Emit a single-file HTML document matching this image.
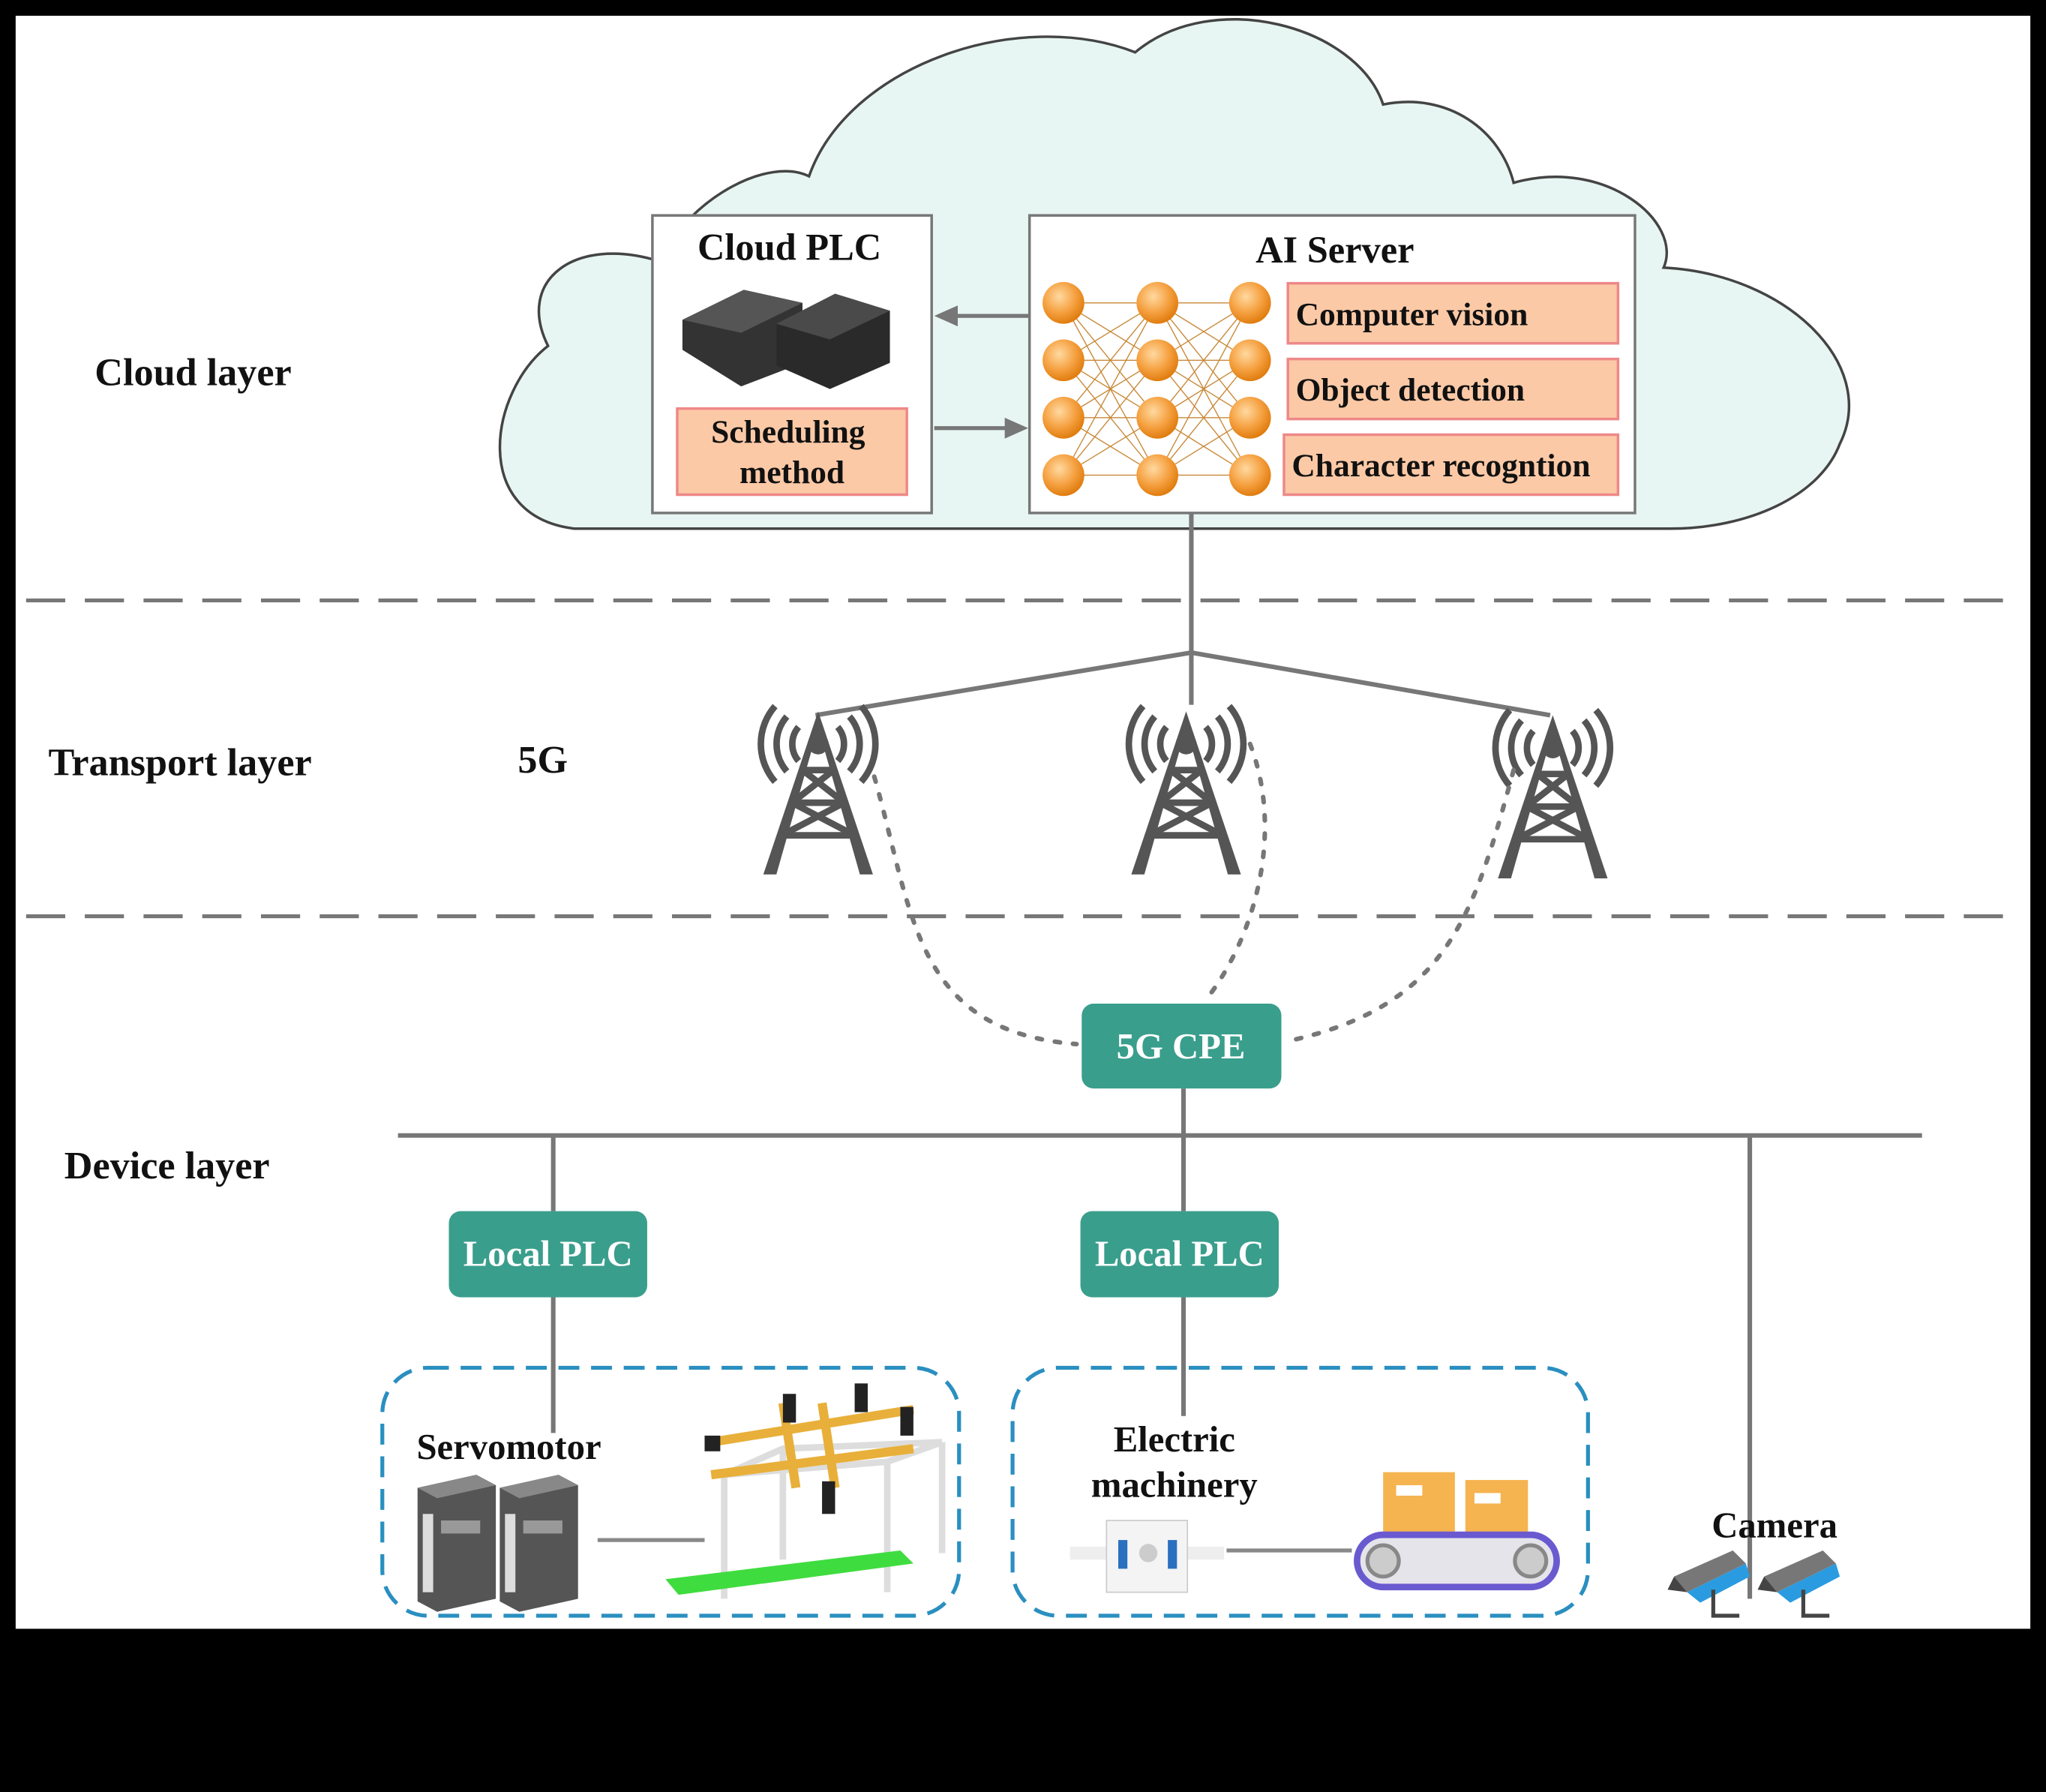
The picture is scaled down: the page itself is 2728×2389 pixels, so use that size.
<!DOCTYPE html>
<html><head><meta charset="utf-8"><style>
html,body{margin:0;padding:0;background:#000;}
svg{display:block}
text{font-family:"Liberation Serif",serif;font-weight:bold;fill:#111}
</style></head><body>
<svg width="2728" height="2389" viewBox="0 0 1568 1373" xmlns="http://www.w3.org/2000/svg">
<defs>
<radialGradient id="og" cx="40%" cy="35%" r="65%"><stop offset="0" stop-color="#ffd9a0"/><stop offset="0.6" stop-color="#f5a040"/><stop offset="1" stop-color="#e07d10"/></radialGradient>
<g id="tower">
 <path d="M0,0 L-42,125 L-32,125 L-5,30 L5,30 L32,125 L42,125 Z" fill="#555"/>
 <path d="M-12,45 L12,45 M-20,70 L20,70 M-28,95 L28,95 M-12,45 L20,70 M12,45 L-20,70 M-20,70 L28,95 M20,70 L-28,95" stroke="#555" stroke-width="5"/>
 <circle cx="0" cy="25" r="8" fill="#555"/>
 <path d="M-15,12 A20,20 0 0,0 -15,38 M15,12 A20,20 0 0,1 15,38 M-24,4 A32,32 0 0,0 -24,46 M24,4 A32,32 0 0,1 24,46 M-33,-4 A44,44 0 0,0 -33,54 M33,-4 A44,44 0 0,1 33,54" stroke="#555" stroke-width="5" fill="none"/>
</g>
<g id="servo">
 <path d="M0,10 L45,0 L60,8 L60,95 L15,105 L0,97 Z" fill="#555"/>
 <path d="M0,10 L45,0 L60,8 L15,18 Z" fill="#888"/>
 <rect x="4" y="30" width="8" height="60" fill="#ddd"/>
 <rect x="18" y="35" width="30" height="10" fill="#999"/>
</g>
<g id="cam">
 <path d="M0,20 L45,0 L55,10 L10,32 Z" fill="#777"/>
 <path d="M10,32 L55,10 L58,20 L20,40 Z" fill="#2a9be0"/>
 <path d="M30,30 L30,50 L50,50" stroke="#444" stroke-width="3" fill="none"/>
 <path d="M0,20 L-5,30 L10,32 Z" fill="#444"/>
</g>
</defs>
<rect x="12" y="12" width="1544" height="1236" fill="#fff"/>
<!-- cloud -->
<path d="M440,405 C360,395 375,300 420,265 C395,215 440,180 505,200 C530,150 590,120 620,135 C650,50 780,5 870,40 C930,-10 1040,20 1060,80 C1110,70 1150,100 1160,140 C1230,120 1290,170 1275,205 C1370,210 1440,280 1410,340 C1395,380 1340,405 1280,405 Z" fill="#e7f6f2" stroke="#444" stroke-width="2"/>
<text x="148" y="295" font-size="30" text-anchor="middle">Cloud  layer</text>
<!-- Cloud PLC -->
<rect x="500" y="165" width="214" height="228" fill="#fff" stroke="#777" stroke-width="2"/>
<text x="605" y="199" font-size="29" text-anchor="middle">Cloud PLC</text>
<path d="M523,245 L570,222 L615,232 L615,278 L568,296 L523,268 Z" fill="#333"/>
<path d="M523,245 L570,222 L615,232 L568,255 Z" fill="#555"/>
<path d="M595,248 L640,225 L682,238 L682,278 L636,298 L595,280 Z" fill="#2a2a2a"/>
<path d="M595,248 L640,225 L682,238 L636,260 Z" fill="#4a4a4a"/>
<rect x="519" y="313" width="176" height="66" fill="#fcc9a6" stroke="#e88" stroke-width="2"/>
<text x="604" y="339" font-size="25" text-anchor="middle">Scheduling</text>
<text x="607" y="370" font-size="25" text-anchor="middle">method</text>
<!-- arrows -->
<path d="M789,242 L730,242" stroke="#777" stroke-width="3"/><path d="M716,242 L734,234 L734,250 Z" fill="#777"/>
<path d="M716,328 L772,328" stroke="#777" stroke-width="3"/><path d="M788,328 L770,320 L770,336 Z" fill="#777"/>
<!-- AI server -->
<rect x="789" y="165" width="464" height="228" fill="#fff" stroke="#777" stroke-width="2"/>
<text x="1023" y="201" font-size="29" text-anchor="middle">AI Server</text>
<g stroke="#c88a3a" stroke-width="0.8">
<path d="M815,232 L887,232 M815,232 L887,276 M815,232 L887,320 M815,232 L887,364 M815,276 L887,232 M815,276 L887,276 M815,276 L887,320 M815,276 L887,364 M815,320 L887,232 M815,320 L887,276 M815,320 L887,320 M815,320 L887,364 M815,364 L887,232 M815,364 L887,276 M815,364 L887,320 M815,364 L887,364"/>
<path d="M887,232 L958,232 M887,232 L958,276 M887,232 L958,320 M887,232 L958,364 M887,276 L958,232 M887,276 L958,276 M887,276 L958,320 M887,276 L958,364 M887,320 L958,232 M887,320 L958,276 M887,320 L958,320 M887,320 L958,364 M887,364 L958,232 M887,364 L958,276 M887,364 L958,320 M887,364 L958,364"/>
</g>
<g fill="url(#og)">
<circle cx="815" cy="232" r="16"/><circle cx="815" cy="276" r="16"/><circle cx="815" cy="320" r="16"/><circle cx="815" cy="364" r="16"/>
<circle cx="887" cy="232" r="16"/><circle cx="887" cy="276" r="16"/><circle cx="887" cy="320" r="16"/><circle cx="887" cy="364" r="16"/>
<circle cx="958" cy="232" r="16"/><circle cx="958" cy="276" r="16"/><circle cx="958" cy="320" r="16"/><circle cx="958" cy="364" r="16"/>
</g>
<g fill="#fcc9a6" stroke="#e88" stroke-width="2">
<rect x="987" y="217" width="253" height="46"/><rect x="987" y="275" width="253" height="46"/><rect x="984" y="333" width="256" height="46"/>
</g>
<text x="993" y="249" font-size="25">Computer vision</text>
<text x="993" y="307" font-size="25">Object detection</text>
<text x="990" y="365" font-size="25">Character recogntion</text>
<!-- transport -->
<path d="M20,460 H1548 M20,702 H1548" stroke="#777" stroke-width="3" stroke-dasharray="30,15"/>
<path d="M913,393 V540 M913,500 L625,548 M913,500 L1188,548" stroke="#777" stroke-width="3.5" fill="none"/>
<text x="138" y="594" font-size="30" text-anchor="middle">Transport layer</text>
<text x="416" y="592" font-size="30" text-anchor="middle">5G</text>
<use href="#tower" x="627" y="545"/><use href="#tower" x="909" y="545"/><use href="#tower" x="1190" y="548"/>
<g stroke="#777" stroke-width="3.5" fill="none" stroke-dasharray="4,10" stroke-linecap="round">
<path d="M670,595 C700,700 700,790 825,800"/>
<path d="M958,570 C985,640 960,720 925,765"/>
<path d="M1160,590 C1130,700 1110,770 990,797"/>
</g>
<!-- device -->
<text x="128" y="903" font-size="30" text-anchor="middle">Device  layer</text>
<path d="M305,870 H1473 M424,870 V928 M907,834 V928 M1341,870 V1225 M424,994 V1098 M907,994 V1085" stroke="#777" stroke-width="3.5"/>
<rect x="829" y="769" width="153" height="65" rx="9" fill="#3a9e8c"/>
<text x="905" y="811" font-size="28" text-anchor="middle" style="fill:#fff">5G CPE</text>
<rect x="344" y="928" width="152" height="66" rx="9" fill="#3a9e8c"/>
<text x="420" y="970" font-size="28" text-anchor="middle" style="fill:#fff">Local PLC</text>
<rect x="828" y="928" width="152" height="66" rx="9" fill="#3a9e8c"/>
<text x="904" y="970" font-size="28" text-anchor="middle" style="fill:#fff">Local PLC</text>
<rect x="293" y="1048" width="442" height="190" rx="35" fill="none" stroke="#2a8fc0" stroke-width="3" stroke-dasharray="16,9"/>
<rect x="776" y="1048" width="441" height="190" rx="35" fill="none" stroke="#2a8fc0" stroke-width="3" stroke-dasharray="16,9"/>
<text x="390" y="1118" font-size="28" text-anchor="middle">Servomotor</text>
<use href="#servo" x="320" y="1130"/><use href="#servo" x="383" y="1130"/>
<path d="M458,1180 H540" stroke="#888" stroke-width="3"/>
<!-- gantry -->
<g stroke="#ddd" stroke-width="5" fill="none">
<path d="M555,1130 V1225 M600,1110 V1195 M680,1120 V1220 M722,1105 V1190 M555,1130 L680,1120 L722,1105 M555,1130 L600,1110 L722,1105"/>
</g>
<path d="M510,1210 L690,1188 L700,1198 L520,1222 Z" fill="#3fdc3f"/>
<g stroke="#e8b03a" stroke-width="7">
<path d="M545,1105 L700,1080 M545,1130 L700,1110 M600,1075 L610,1140 M630,1075 L640,1140"/>
</g>
<g fill="#222"><rect x="600" y="1068" width="10" height="22"/><rect x="655" y="1060" width="10" height="22"/><rect x="690" y="1078" width="10" height="22"/><rect x="630" y="1135" width="10" height="25"/><rect x="540" y="1100" width="12" height="12"/></g>
<text x="900" y="1112" font-size="28" text-anchor="middle">Electric</text>
<text x="900" y="1147" font-size="28" text-anchor="middle">machinery</text>
<rect x="820" y="1185" width="118" height="10" fill="#eee"/>
<rect x="848" y="1165" width="62" height="55" fill="#f4f4f4" stroke="#ccc"/>
<rect x="857" y="1180" width="7" height="22" fill="#2a70c0"/><rect x="895" y="1180" width="7" height="22" fill="#2a70c0"/>
<circle cx="880" cy="1190" r="7" fill="#ccc"/>
<path d="M940,1188 H1036" stroke="#888" stroke-width="3"/>
<rect x="1060" y="1128" width="55" height="47" fill="#f5b450"/><rect x="1123" y="1134" width="48" height="41" fill="#f5b450"/>
<rect x="1070" y="1138" width="20" height="8" fill="#fff"/><rect x="1130" y="1144" width="20" height="8" fill="#fff"/>
<rect x="1040" y="1176" width="153" height="40" rx="20" fill="#e4e4ea" stroke="#6a5ad0" stroke-width="5"/>
<circle cx="1060" cy="1196" r="12" fill="#ccc" stroke="#888" stroke-width="3"/><circle cx="1173" cy="1196" r="12" fill="#ccc" stroke="#888" stroke-width="3"/>
<text x="1360" y="1178" font-size="28" text-anchor="middle">Camera</text>
<use href="#cam" x="1283" y="1188"/><use href="#cam" x="1352" y="1188"/>
</svg>
</body></html>
